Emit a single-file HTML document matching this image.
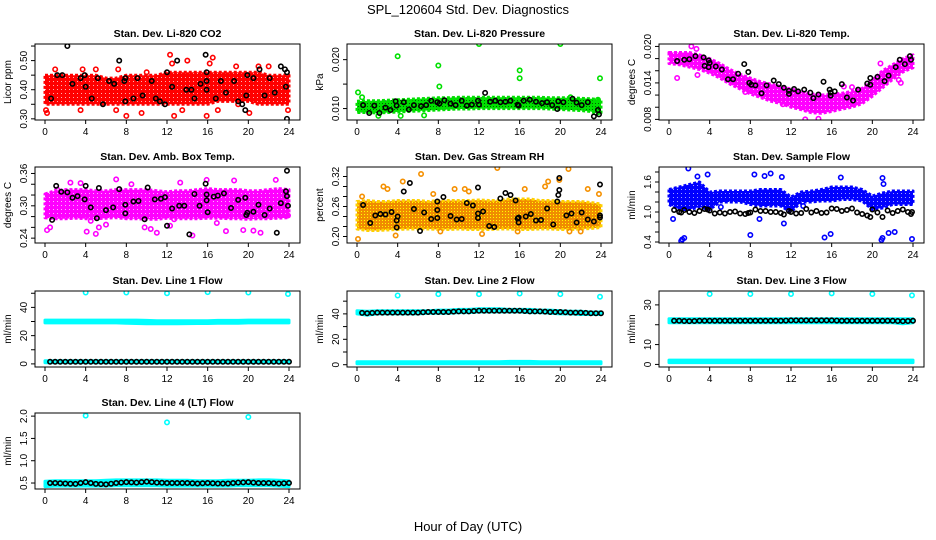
<!DOCTYPE html>
<html><head><meta charset="utf-8"><style>
body{margin:0;background:#fff;}
svg{display:block;font-family:"Liberation Sans",Arial,sans-serif;}
</style></head><body>
<svg id="chart" width="936" height="540" viewBox="0 0 936 540">
<defs>
<pattern id="patRed" width="4" height="4" patternUnits="userSpaceOnUse"><rect width="4" height="4" fill="#ff0000"/><rect x="1" y="1" width="1" height="1" fill="#ffb0b0"/></pattern>
<pattern id="patGreen" width="3" height="3" patternUnits="userSpaceOnUse"><rect width="3" height="3" fill="#00e000"/><rect x="1" y="1" width="1" height="1" fill="#006000"/></pattern>
<pattern id="patOrange" width="3" height="3" patternUnits="userSpaceOnUse"><rect width="3" height="3" fill="#f08c00"/><rect x="1" y="1" width="1" height="1" fill="#ffff00"/></pattern>
<pattern id="patMag" width="4" height="4" patternUnits="userSpaceOnUse"><rect width="4" height="4" fill="#ff00ff"/><rect x="1" y="1" width="1" height="1" fill="#ffb0ff"/></pattern>
<pattern id="patBlue" width="4" height="4" patternUnits="userSpaceOnUse"><rect width="4" height="4" fill="#0000ff"/><rect x="1" y="1" width="1" height="1" fill="#a0a0ff"/></pattern>
</defs>
<text x="468" y="14" text-anchor="middle" font-size="13">SPL_120604  Std. Dev. Diagnostics</text>
<text x="468" y="531" text-anchor="middle" font-size="13">Hour of Day (UTC)</text>
</svg>
<script>
const hours = [0,1,2,3,4,5,6,7,8,9,10,11,12,13,14,15,16,17,18,19,20,21,22,23,24];
const xTicks = [0,4,8,12,16,20,24];

// CO2
const co2Lo = [.35,.35,.35,.35,.35,.35,.35,.35,.35,.35,.35,.35,.35,.35,.35,.35,.35,.36,.36,.36,.36,.35,.35,.35,.35];
const co2Hi = [.45,.45,.45,.45,.45,.45,.44,.44,.45,.45,.45,.45,.46,.46,.46,.46,.46,.46,.46,.46,.46,.46,.45,.45,.45];
const co2Px = [0.1,0.2,3.5,3.7,7,7.2,8,9.5,10,12.3,12.5,12.7,14,15.9,16.2,16.5,17,18.8,20.1,21,22,23.9,1,5,13.5,19];
const co2Py = [.33,.32,.33,.47,.33,.47,.31,.32,.46,.52,.49,.31,.50,.31,.49,.51,.33,.48,.32,.48,.48,.33,.47,.47,.33,.35];
const co2Bx = [2.2,0.6,1.2,1.7,2.7,3.5,3.9,4,4.6,5.2,5.7,6.3,6.8,7.3,7.8,7.9,7.9,8.7,9.1,9.6,10.5,10.9,11.3,11.8,12,12.5,13,13.9,14.4,14.7,15.3,15.8,15.9,15.9,15.9,16.8,17.3,17.8,18.6,19,19.4,19.7,19.8,19.9,20.5,21.1,21.6,22.1,22.6,23.2,23.6,23.8,23.7,23.8];
const co2By = [.55,.37,.45,.45,.42,.44,.45,.41,.37,.44,.35,.43,.42,.50,.43,.44,.36,.37,.44,.38,.43,.37,.36,.35,.46,.41,.50,.40,.40,.37,.42,.52,.46,.43,.40,.37,.43,.39,.43,.36,.35,.33,.38,.45,.44,.47,.38,.44,.39,.48,.47,.46,.41,.30];

// Pressure
const prLo = [.0092,.0092,.0091,.0092,.0093,.0094,.0095,.0096,.0097,.0098,.0099,.0099,.0100,.0100,.0100,.0100,.0100,.0100,.0100,.0099,.0098,.0097,.0096,.0094,.0088];
const prHi = [.0115,.0116,.0116,.0117,.0118,.0119,.0120,.0121,.0122,.0122,.0123,.0123,.0123,.0123,.0123,.0123,.0123,.0123,.0123,.0122,.0122,.0122,.0121,.0120,.0118];
const prPx = [0.1,4,8,8.1,12,16,16,20,23.9,0.5,23.7,4.3,21,2.1,6.6];
const prPy = [.0133,.0207,.0188,.0145,.0232,.0178,.0162,.0232,.0162,.0123,.0118,.0085,.0123,.0085,.0086];
const prBx = [0.6,1.2,1.7,2.2,2.8,3.3,3.8,3.9,4.6,5.1,5.6,6.3,6.8,7.3,7.9,8.1,8.6,9.2,9.7,10.3,10.8,11.3,11.9,12,12.6,13.1,13.6,14.1,14.6,15.1,15.8,15.9,16.4,17,17.6,18.2,18.7,19.2,19.7,19.8,20.3,21.2,21.6,22.1,22.7,23.3,23.7,23.8];
const prBy = [.0107,.0091,.0106,.0091,.0102,.0097,.0115,.0106,.0113,.0098,.0107,.0105,.0107,.0116,.0113,.0110,.0117,.0110,.0107,.0116,.0106,.0108,.0116,.0108,.0132,.0114,.0116,.0113,.0114,.0116,.0108,.0106,.0116,.0118,.0114,.0111,.0113,.0107,.0099,.0115,.0113,.0120,.0112,.0107,.0113,.0084,.0097,.0088];

// Li-820 Temp
const tLo = [.0172,.0170,.0166,.0162,.0156,.0148,.0138,.0130,.0122,.0116,.0110,.0106,.0100,.0096,.0091,.0090,.0093,.0097,.0100,.0106,.0118,.0132,.0146,.0158,.0165];
const tHi = [.0190,.0190,.0190,.0186,.0180,.0172,.0162,.0154,.0148,.0142,.0138,.0134,.0130,.0126,.0122,.0120,.0121,.0123,.0126,.0131,.0145,.0160,.0170,.0180,.0186];
const tPx = [0.8,2.7,2.8,7.5,8,11.2,13.4,14.7,17.2,18,20.8,22.6,22.8,2.2];
const tPy = [.0148,.0196,.0153,.0125,.0127,.0105,.0080,.0081,.0134,.0133,.0172,.0145,.0140,.0200];
const tBx = [0.8,1.5,2,2.6,3.4,3.9,4,3.5,3.9,4.6,5.2,5.8,6.3,6.8,7.4,7.8,7.9,8.1,8.5,9.1,9.6,10.3,10.8,11.3,11.8,11.8,12.3,12.7,13.3,13.9,14.2,14.7,15.2,15.8,15.9,15.9,16.3,17,17.5,18.1,18.6,19.5,19.8,19.8,20.5,21.2,21.6,22.3,22.7,23.2,23.7,23.8];
const tBy = [.0176,.0178,.0179,.0184,.0182,.0177,.0173,.0168,.0166,.0167,.0162,.0146,.0146,.0155,.0171,.0158,.0140,.0137,.0136,.0123,.0136,.0144,.0138,.0132,.0127,.0122,.0130,.0126,.0129,.0124,.0115,.0121,.0142,.0129,.0124,.0119,.0126,.0138,.0116,.0111,.0129,.0139,.0137,.0148,.0150,.0143,.0152,.0166,.0178,.0171,.0184,.0178];

// Amb box temp
const aLo = [.278,.276,.276,.277,.276,.276,.277,.278,.276,.276,.275,.275,.277,.276,.276,.276,.277,.277,.276,.276,.275,.276,.276,.277,.278];
const aHi = [.322,.328,.330,.330,.330,.328,.328,.330,.330,.330,.330,.328,.326,.328,.328,.330,.332,.330,.330,.330,.328,.328,.330,.332,.330];
const aPx = [0.5,0.2,2.5,3.5,4.1,5,5.3,7,9.8,10.4,11,12.3,13.3,14.5,15.9,17.8,18.6,19.5,20.5,21.2,22.7,23.9,1.2,8.5,16.9,12.7,4.5,6];
const aPy = [.26,.255,.343,.342,.252,.248,.26,.349,.26,.257,.25,.263,.343,.245,.348,.253,.347,.255,.254,.25,.348,.282,.33,.34,.268,.275,.272,.265];
const aBx = [0.7,1.1,1.6,2.2,2.7,3.2,3.9,4,4.5,5.1,5.3,6,6.7,7.3,7.9,7.9,8.7,9.2,9.8,10.1,10.8,11.4,11.8,12,12.5,13.2,13.7,14.2,14.7,15.2,15.8,15.9,15.9,16,16.6,17,17.6,18.3,19,19.7,19.8,19.9,20.5,21,21.6,22.1,22.8,23.2,23.7,23.8,23.9,23.8];
const aBy = [.274,.337,.326,.325,.315,.318,.312,.337,.297,.277,.333,.292,.297,.331,.302,.286,.308,.309,.275,.334,.312,.313,.316,.263,.295,.300,.300,.247,.322,.300,.341,.321,.310,.288,.317,.319,.323,.296,.311,.315,.283,.287,.289,.302,.283,.295,.250,.305,.327,.318,.300,.365];

// Gas stream RH
const rLo = [.215,.212,.212,.213,.214,.215,.215,.215,.214,.214,.215,.214,.214,.214,.215,.215,.214,.214,.215,.215,.214,.214,.215,.216,.218];
const rHi = [.270,.272,.270,.270,.272,.272,.272,.270,.272,.272,.272,.272,.273,.272,.272,.275,.275,.275,.272,.272,.270,.270,.270,.268,.265];
const rPx = [0.1,0.5,4.5,6.3,3,2.6,3.8,7.5,8.2,9.6,10.6,12.3,13.8,15.8,18.5,18.8,19.9,20.8,20.9,22,22.7,23.8,16.5,11];
const rPy = [.195,.28,.31,.325,.295,.30,.202,.285,.21,.295,.295,.205,.337,.21,.30,.31,.313,.335,.21,.21,.295,.285,.295,.29];
const rBx = [0.6,1.3,1.8,2.3,2.8,3.4,3.9,3.9,4,4.6,5.2,5.6,6.2,6.6,7.3,7.9,7.9,7.9,8.5,9.2,9.8,10.3,10.8,11.4,11.9,11.9,11.9,12.4,13,13.5,14.1,14.6,15.1,15.6,15.8,15.9,15.9,16.6,17.1,17.6,18.1,18.7,19.3,19.7,19.8,19.9,19.9,20.6,21.1,21.6,22.1,22.7,23.3,23.9,23.9,23.9];
const rBy = [.263,.227,.242,.245,.244,.249,.218,.232,.24,.29,.307,.255,.211,.248,.235,.237,.253,.27,.279,.241,.234,.235,.267,.262,.237,.246,.298,.25,.221,.219,.276,.287,.283,.272,.236,.228,.238,.24,.245,.232,.233,.256,.224,.27,.283,.293,.317,.242,.246,.228,.248,.234,.23,.238,.242,.304];

// Sample flow
const sLo = [1.15,1.05,1.05,1.1,1.05,1.2,1.2,1.2,1.15,1.12,1.12,1.12,1.0,1.2,1.2,1.22,1.22,1.25,1.25,1.22,1.05,1.08,1.15,1.15,1.15];
const sHi = [1.45,1.5,1.55,1.6,1.4,1.42,1.42,1.42,1.42,1.45,1.45,1.45,1.3,1.4,1.42,1.45,1.5,1.5,1.5,1.45,1.32,1.38,1.42,1.42,1.42];
const sPx = [1.3,1.5,1.2,0.4,1.9,2.8,3.8,8,8.4,10,11.1,11.3,15.3,15.9,16.9,20.9,21,21.6,22.2,23.9,21,21.1,8.9,5.1,12.2,13.2,9.4];
const sPy = [0.45,0.48,0.42,0.86,1.87,1.71,1.75,0.54,1.75,1.77,1.7,0.77,0.49,0.56,1.69,0.44,0.48,0.58,0.6,0.46,1.68,1.56,0.86,1.1,1.2,1.12,1.72];
const sBx = [0.5,1,1.2,1.5,2,2.5,3,3.5,3.8,4,4.5,5,5.5,6,6.5,7,7.5,7.8,8,8.5,9,9.5,10,10.5,11,11.3,11.8,12,12.5,13,13.5,14,14.5,15,15.5,16,16.5,17,17.5,18,18.5,19,19.5,19.8,20,20.5,21,21.5,22,22.5,23,23.5,23.8,23.9];
const sBy = [1.04,1.0,0.99,1.04,1.0,0.98,1.02,1.06,1.05,1.03,0.97,0.99,0.97,1.0,1.01,0.97,0.96,0.98,0.99,1.05,1.02,1.02,1.0,1.0,0.98,0.95,1.02,1.0,0.97,0.98,1.06,0.99,1.02,0.98,0.99,1.07,1.06,1.02,1.04,1.07,0.99,0.96,0.93,0.9,1.05,0.99,0.9,1.03,0.98,1.02,1.05,1.0,0.96,1.0];

// Line flows
const l1Hi = [31,31,31,31,31,31,31,31,31,31,30.8,30.6,30.6,30.6,30.6,30.6,30.6,30.8,30.8,30.8,31,31,31,31,31];
const l1Lo = [29,29,29,29,29,29,29,29,28.8,28.6,28.4,28.4,28.4,28.4,28.5,28.6,28.6,28.8,28.8,28.8,29,29,29,29,29];
const l1LowHi = [2.2,2.2,2.2,2.2,2.2,2.2,2.2,2.2,2.2,2.2,2.2,2.2,2.2,2.2,2.2,2.2,2.2,2.2,2.2,2.2,2.2,2.2,2.2,2.2,2.2];
const l1LowLo = [0.8,0.8,0.8,0.8,0.8,0.8,0.8,0.8,0.8,0.8,0.8,0.8,0.8,0.8,0.8,0.8,0.8,0.8,0.8,0.8,0.8,0.8,0.8,0.8,0.8];
const l1Px = [4,8,12,16,20,23.9];
const l1Py = [50.5,50.5,50,50.8,50.5,49.5];
const l1Black = [1.5,1.5,1.5,1.5,1.5,1.5,1.5,1.5,1.5,1.5,1.5,1.5,1.5,1.5,1.5,1.5,1.5,1.5,1.5,1.5,1.5,1.5,1.5,1.5,1.5];

const l2Hi = [42.5,42,42.5,42.5,42.5,42.5,42.5,42.5,43,43,43.5,43.5,44,44,44,43.5,43.5,43.5,43,43,42.5,42,42,41.5,41.5];
const l2Lo = [40,39,40,40,40,40,40,40.5,40.5,40.5,41,41,41.5,41.5,41.5,41.5,41.5,41,41,40.5,40,40,39.5,39.5,39.5];
const l2LowHi = [2.4,2.4,2.4,2.4,2.4,2.4,2.4,2.4,2.4,2.4,2.4,2.4,2.4,2.4,2.4,2.6,2.6,2.6,2.4,2.4,2.4,2.4,2.4,2.4,2.4];
const l2LowLo = [0.8,0.8,0.8,0.8,0.8,0.8,0.8,0.8,0.8,0.8,0.8,0.8,0.8,0.8,0.8,0.8,0.8,0.8,0.8,0.8,0.8,0.8,0.8,0.8,0.8];
const l2Px = [4,8,12,16,20,23.9];
const l2Py = [54.5,55.5,55.5,56,55.5,53.5];
const l2Black = [41,40.5,41,41,41,41,41,41.5,41.5,41.5,42,42,42.5,42.5,42.5,42.5,42.5,42,42,41.5,41.5,41,41,40.5,40.5];

const l3Hi = [23,23,23,23,23,23,23,23,23,23,23,23,23,23,23,23,23,23,23,23,23,23,23,23,23];
const l3Lo = [21,21,21,21,21,21,21,21,21,21,21,21,21,21,21,21,21,21,21,21,21,21,21,20.5,21];
const l3LowHi = [2.2,2.2,2.2,2.2,2.2,2.2,2.2,2.2,2.2,2.2,2.2,2.2,2.2,2.2,2.2,2.2,2.2,2.2,2.2,2.2,2.2,2.2,2.2,2.2,2.2];
const l3LowLo = [0.9,0.9,0.9,0.9,0.9,0.9,0.9,0.9,0.9,0.9,0.9,0.9,0.9,0.9,0.9,0.9,0.9,0.9,0.9,0.9,0.9,0.9,0.9,0.9,0.9];
const l3Px = [4,8,12,16,20,23.9];
const l3Py = [35.5,35.5,35.5,35.8,35.5,34.8];
const l3Black = [22,22,21.8,22,22,22,22,22,22,22,22,22,22.2,22.2,22.2,22.2,22.2,22,22,22,22,22,22,21.8,22];

const l4Hi = [0.54,0.55,0.55,0.55,0.55,0.55,0.56,0.57,0.57,0.57,0.57,0.57,0.56,0.56,0.56,0.55,0.55,0.55,0.56,0.56,0.56,0.57,0.57,0.56,0.55];
const l4Lo = [0.42,0.43,0.43,0.43,0.43,0.43,0.43,0.44,0.44,0.44,0.44,0.44,0.43,0.43,0.43,0.43,0.43,0.43,0.43,0.44,0.44,0.44,0.44,0.43,0.42];
const l4Px = [4,12,20];
const l4Py = [2.01,1.86,1.98];
const l4Black = [0.5,0.5,0.49,0.48,0.52,0.48,0.47,0.5,0.52,0.51,0.53,0.51,0.5,0.5,0.5,0.49,0.5,0.49,0.49,0.51,0.52,0.5,0.5,0.49,0.5];

const NS = 'http://www.w3.org/2000/svg';
const svg = document.getElementById('chart');
function mk(tag, attrs, parent){
  const e = document.createElementNS(NS, tag);
  for (const k in attrs) e.setAttribute(k, attrs[k]);
  (parent||svg).appendChild(e);
  return e;
}
const rowTops = [44,167,291,413];
const BH = 76;

function panel(o){
  const left = 35 + 312*o.col, right = left + 265;
  const top = rowTops[o.row], bottom = top + BH;
  const x0 = 45 + 312*o.col, x1 = 289 + 312*o.col;
  const xs = v => x0 + (v/24)*(x1-x0);
  const ys = v => bottom - (v-o.ymin)/(o.ymax-o.ymin)*BH;
  const g = mk('g', {});
  
  
  const t = mk('text', {x:(left+right)/2, y:top-7, 'text-anchor':'middle', 'font-size':'10.5', 'font-weight':'bold'}, g);
  t.textContent = o.title;
  
  
  const cl = 'clip'+o.row+o.col;
  const cp = mk('clipPath', {id:cl}, g);
  mk('rect', {x:left, y:top, width:right-left, height:BH}, cp);
  const plot = mk('g', {'clip-path':'url(#'+cl+')'}, g);
  function band(lo, hi, name){
    let d = '';
    hours.forEach((h,i)=>{ d += (i?'L':'M') + xs(h).toFixed(1) + ',' + ys(hi[i]).toFixed(1); });
    for (let i = hours.length-1; i >= 0; i--) d += 'L' + xs(hours[i]).toFixed(1) + ',' + ys(lo[i]).toFixed(1);
    const p = mk('path', {d:d+'Z', fill:o.fill||o.color, stroke:o.bandStroke||o.color, 'stroke-width':'3', 'stroke-linejoin':'round', 'stroke-dasharray':o.dash||'none'}, plot);
    
    
  }
  function pts(xsA, ysA, color, name){
    xsA.forEach((xv,i)=>{
      const c = mk('circle', {cx:xs(xv), cy:ys(ysA[i]), r:2.2, fill:'none', stroke:color, 'stroke-width':'1.6'}, plot);
      
      
    });
  }
  if (o.bands) o.bands.forEach(b => band(b[0], b[1], 'data-cloud'));
  if (o.px) pts(o.px, o.py, o.color, 'data-point');
  if (o.bx) pts(o.bx, o.by, '#000', 'mean-point');
  if (o.black) {
    const bxs = [], bys = [];
    hours.forEach((h,i)=>{ if (h>=0.5) { bxs.push(h); bys.push(o.black[i]); } });
    hours.forEach((h,i)=>{ if (i<24) { bxs.push(h+0.5); bys.push((o.black[i]+o.black[i+1])/2); } });
    pts(bxs, bys, '#000', 'mean-point');
  }
  const box = mk('rect', {x:left, y:top, width:right-left, height:BH, fill:'none', stroke:'#000', 'stroke-width':'1'}, g);
  
  
  xTicks.forEach(v=>{
    mk('line', {x1:xs(v), x2:xs(v), y1:bottom, y2:bottom+4, stroke:'#000'}, g);
    const tx = mk('text', {x:xs(v), y:bottom+15, 'text-anchor':'middle', 'font-size':'10'}, g);
    tx.textContent = v;
    
    
  });
  o.yt.forEach(v=>{
    mk('line', {x1:left, x2:left-4, y1:ys(v), y2:ys(v), stroke:'#000'}, g);
  });
  o.yl.forEach((v,i)=>{
    const yy = ys(v);
    const tx = mk('text', {x:left-8, y:yy, 'text-anchor':'middle', 'font-size':'10', transform:'rotate(-90 '+(left-8)+' '+yy+')'}, g);
    tx.textContent = o.ylt[i];
    
    
  });
  const yc = (top+bottom)/2;
  const yl = mk('text', {x:left-24, y:yc, 'text-anchor':'middle', 'font-size':'10', transform:'rotate(-90 '+(left-24)+' '+yc+')'}, g);
  yl.textContent = o.ylab;
  
  
}

panel({name:'panel-co2', row:0, col:0, title:'Stan. Dev. Li-820 CO2', ylab:'Licor ppm', color:'#ff0000', fill:'url(#patRed)', dash:'3 2', ymin:0.296, ymax:0.557,
  yt:[0.30,0.35,0.40,0.45,0.50,0.55], yl:[0.30,0.40,0.50], ylt:['0.30','0.40','0.50'],
  bands:[[co2Lo,co2Hi]], px:co2Px, py:co2Py, bx:co2Bx, by:co2By});
panel({name:'panel-pressure', row:0, col:1, title:'Stan. Dev. Li-820 Pressure', ylab:'kPa', color:'#00e000', fill:'url(#patGreen)', dash:'3 2', ymin:0.00766, ymax:0.0232,
  yt:[0.010,0.015,0.020], yl:[0.010,0.020], ylt:['0.010','0.020'],
  bands:[[prLo,prHi]], px:prPx, py:prPy, bx:prBx, by:prBy});
panel({name:'panel-licor-temp', row:0, col:2, title:'Stan. Dev. Li-820 Temp.', ylab:'degrees C', color:'#ff00ff', fill:'url(#patMag)', dash:'3 2', ymin:0.0079, ymax:0.0204,
  yt:[0.008,0.010,0.012,0.014,0.016,0.018,0.020], yl:[0.008,0.014,0.020], ylt:['0.008','0.014','0.020'],
  bands:[[tLo,tHi]], px:tPx, py:tPy, bx:tBx, by:tBy});
panel({name:'panel-amb-box-temp', row:1, col:0, title:'Stan. Dev. Amb. Box Temp.', ylab:'degrees C', color:'#ff00ff', fill:'url(#patMag)', dash:'3 2', ymin:0.231, ymax:0.372,
  yt:[0.24,0.26,0.28,0.30,0.32,0.34,0.36], yl:[0.24,0.30,0.36], ylt:['0.24','0.30','0.36'],
  bands:[[aLo,aHi]], px:aPx, py:aPy, bx:aBx, by:aBy});
panel({name:'panel-gas-rh', row:1, col:1, title:'Stan. Dev. Gas Stream RH', ylab:'percent', color:'#f59000', fill:'url(#patOrange)', bandStroke:'#ffd000', dash:'3 2', ymin:0.187, ymax:0.339,
  yt:[0.20,0.22,0.24,0.26,0.28,0.30,0.32], yl:[0.20,0.26,0.32], ylt:['0.20','0.26','0.32'],
  bands:[[rLo,rHi]], px:rPx, py:rPy, bx:rBx, by:rBy});
panel({name:'panel-sample-flow', row:1, col:2, title:'Stan. Dev. Sample Flow', ylab:'ml/min', color:'#0000ff', fill:'url(#patBlue)', dash:'3 2', ymin:0.38, ymax:1.9,
  yt:[0.4,0.6,0.8,1.0,1.2,1.4,1.6,1.8], yl:[0.4,1.0,1.6], ylt:['0.4','1.0','1.6'],
  bands:[[sLo,sHi]], px:sPx, py:sPy, bx:sBx, by:sBy});
panel({name:'panel-line1-flow', row:2, col:0, title:'Stan. Dev. Line 1 Flow', ylab:'ml/min', color:'#00ffff', ymin:-2.2, ymax:51.6,
  yt:[0,10,20,30,40,50], yl:[0,20,40], ylt:['0','20','40'],
  bands:[[l1Lo,l1Hi],[l1LowLo,l1LowHi]], px:l1Px, py:l1Py, black:l1Black});
panel({name:'panel-line2-flow', row:2, col:1, title:'Stan. Dev. Line 2 Flow', ylab:'ml/min', color:'#00ffff', ymin:-1.8, ymax:58,
  yt:[0,10,20,30,40,50], yl:[0,20,40], ylt:['0','20','40'],
  bands:[[l2Lo,l2Hi],[l2LowLo,l2LowHi]], px:l2Px, py:l2Py, black:l2Black});
panel({name:'panel-line3-flow', row:2, col:2, title:'Stan. Dev. Line 3 Flow', ylab:'ml/min', color:'#00ffff', ymin:-1.3, ymax:37,
  yt:[0,10,20,30], yl:[0,10,30], ylt:['0','10','30'],
  bands:[[l3Lo,l3Hi],[l3LowLo,l3LowHi]], px:l3Px, py:l3Py, black:l3Black});
panel({name:'panel-line4-flow', row:3, col:0, title:'Stan. Dev. Line 4 (LT) Flow', ylab:'ml/min', color:'#00ffff', ymin:0.366, ymax:2.07,
  yt:[0.5,1.0,1.5,2.0], yl:[0.5,1.0,1.5,2.0], ylt:['0.5','1.0','1.5','2.0'],
  bands:[[l4Lo,l4Hi]], px:l4Px, py:l4Py, black:l4Black});
</script>
</body></html>
